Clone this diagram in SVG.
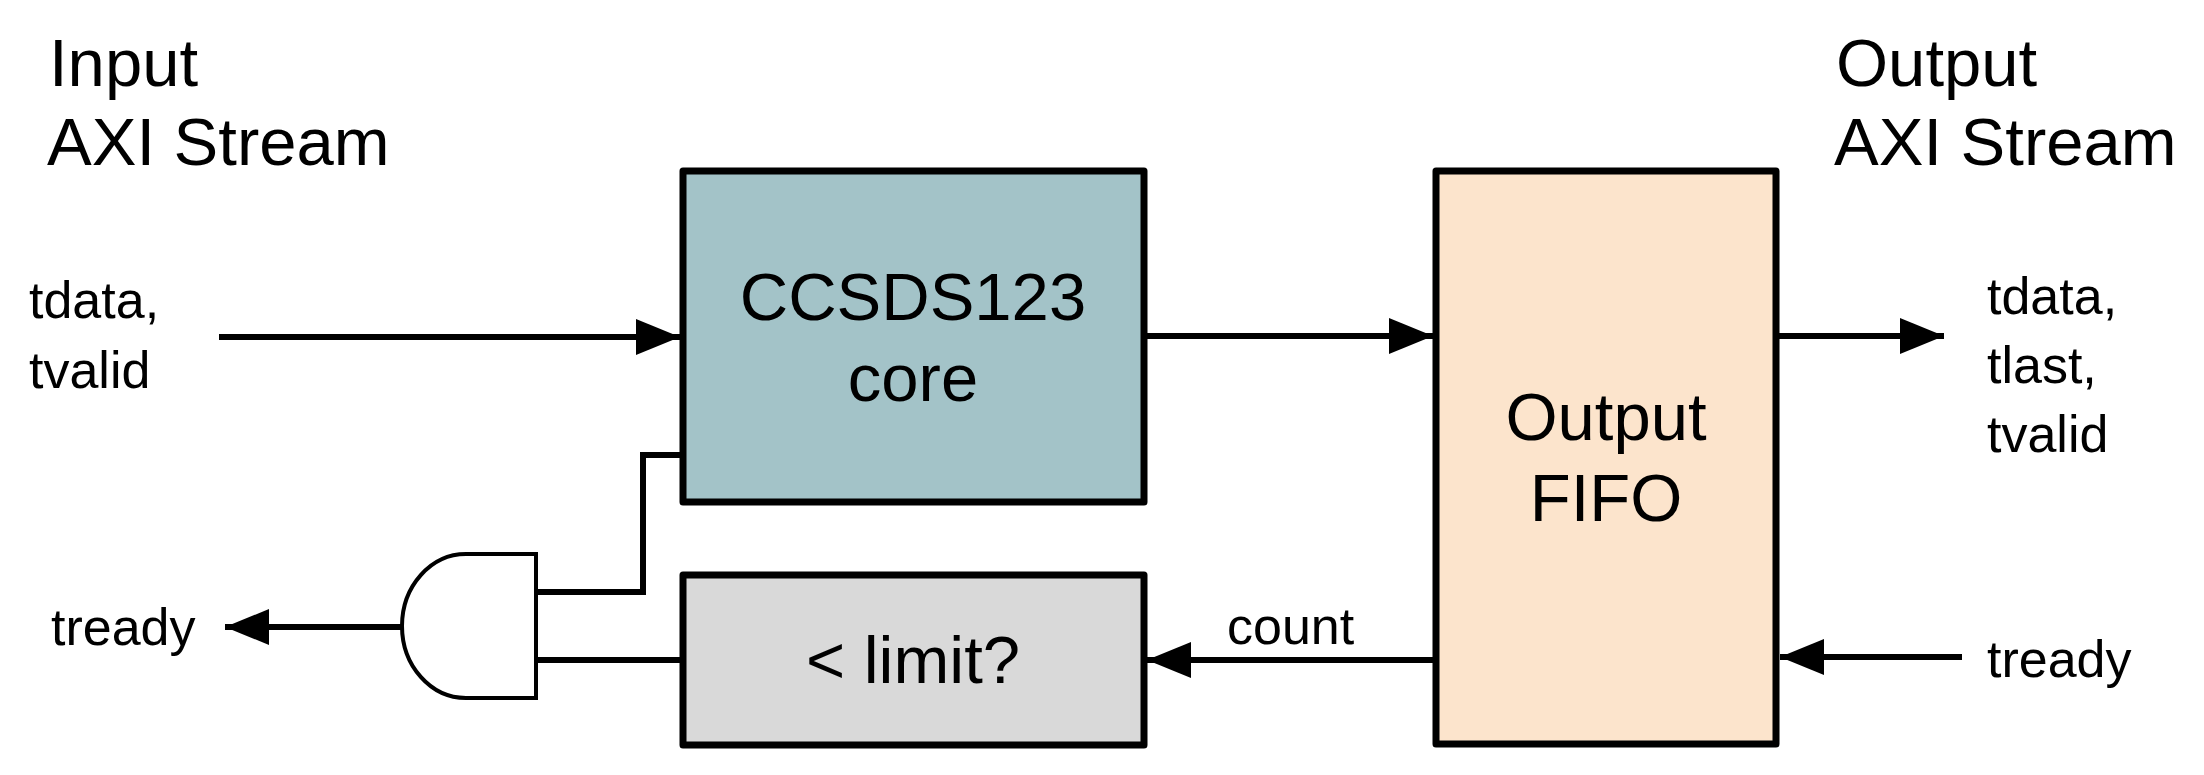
<svg xmlns="http://www.w3.org/2000/svg" width="2204" height="775" viewBox="0 0 2204 775">
<style>
text{font-family:"Liberation Sans",Arial,sans-serif;fill:#000}
.big{font-size:67px}
.sm{font-size:52px}
.box{stroke:#000;stroke-width:7;stroke-linejoin:round}
.w{fill:none;stroke:#000;stroke-width:6}
.a{marker-end:url(#ah)}
</style>
<defs>
<marker id="ah" markerUnits="userSpaceOnUse" markerWidth="46" markerHeight="36" refX="44" refY="18" orient="auto"><path d="M0,0 L44,18 L0,36 Z" fill="#000"/></marker>
</defs>
<rect width="2204" height="775" fill="#fff"/>
<g id="label-input"><text class="big" x="49" y="86">Input</text><text class="big" x="47" y="165">AXI Stream</text></g>
<g id="label-output"><text class="big" x="1836" y="86">Output</text><text class="big" x="1834" y="165">AXI Stream</text></g>
<g id="in-signals"><text class="sm" x="29" y="318">tdata,</text><text class="sm" x="29" y="388">tvalid</text></g>
<g id="in-tready"><text class="sm" x="51" y="645">tready</text></g>
<g id="out-signals"><text class="sm" x="1987" y="314">tdata,</text><text class="sm" x="1987" y="383">tlast,</text><text class="sm" x="1987" y="452">tvalid</text></g>
<g id="out-tready"><text class="sm" x="1987" y="677">tready</text></g>
<g id="core"><rect class="box" x="683" y="171" width="461" height="331" fill="#A3C3C8"/><text class="big" x="913" y="320" text-anchor="middle">CCSDS123</text><text class="big" x="913" y="401" text-anchor="middle">core</text></g>
<g id="limit"><rect class="box" x="683" y="575" width="461" height="170" fill="#D9D9D9"/><text class="big" x="913" y="683" text-anchor="middle">&lt; limit?</text></g>
<g id="fifo"><rect class="box" x="1436" y="171" width="340" height="573" fill="#FCE4CC"/><text class="big" x="1606" y="440" text-anchor="middle">Output</text><text class="big" x="1606" y="521" text-anchor="middle">FIFO</text></g>
<g id="and-gate"><path d="M536,554 L466,554 A64,72 0 0 0 466,698 L536,698 Z" fill="#fff" stroke="#000" stroke-width="4"/></g>
<g id="connectors">
<line class="w a" x1="219" y1="337" x2="680" y2="337"/>
<line class="w a" x1="1147" y1="336" x2="1433" y2="336"/>
<line class="w a" x1="1779" y1="336" x2="1944" y2="336"/>
<line class="w a" x1="1962" y1="657" x2="1780" y2="657"/>
<line class="w a" x1="1433" y1="660" x2="1147" y2="660"/>
<line class="w a" x1="402" y1="627" x2="225" y2="627"/>
<polyline class="w" points="538,592 643,592 643,455 680,455"/>
<line class="w" x1="538" y1="660" x2="680" y2="660"/>
</g>
<g id="count-label"><text class="sm" x="1227" y="644">count</text></g>
</svg>
